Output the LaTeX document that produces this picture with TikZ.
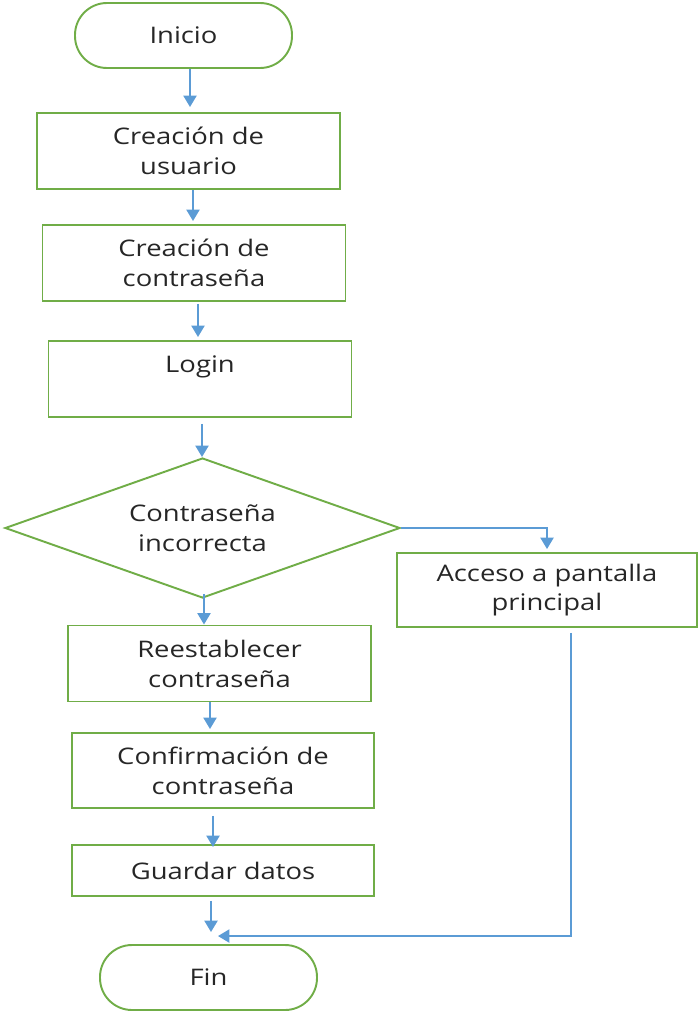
\documentclass[tikz,border=0pt]{standalone}
\usepackage{fontspec}
\setmainfont[FakeStretch=1.2]{Open Sans}
\usepackage{tikz}
\usetikzlibrary{arrows.meta}
\usetikzlibrary{shapes.geometric}
\usetikzlibrary{positioning}
\definecolor{flowgreen}{RGB}{112,173,71}
\definecolor{flowblue}{RGB}{91,155,213}
\definecolor{flowtext}{RGB}{38,38,38}

\begin{document}
\begin{tikzpicture}

    \tikzstyle{base}     = [draw=flowgreen, line width=1.1pt, text=flowtext, align=center,
                            font=\fontsize{13}{17}\selectfont];
    \tikzstyle{terminal} = [base, rectangle, rounded corners=0.64cm, minimum width=4.34cm, minimum height=1.3cm];
    \tikzstyle{process}  = [base, rectangle, minimum width=6.06cm, minimum height=1.52cm];
    \tikzstyle{decision} = [base, diamond, aspect=2.82, minimum width=7.9cm, minimum height=2.8cm, inner sep=0pt];
    \tikzstyle{flow}     = [draw=flowblue, line width=1pt, -{Triangle[width=7.5pt,length=6.5pt]}];

    \useasboundingbox (0,0) rectangle (13.96,-20.26);

    %
    % Main column
    %
    \node[terminal] (inicio)  at (3.67,-0.71)  {Inicio};
    \node[process]  (usuario) at (3.77,-3.02)  {Creación de\\usuario};
    \node[process]  (clave)   at (3.88,-5.26)  {Creación de\\contraseña};
    \node[process]  (login)   at (4.00,-7.58)  {Login\\ {}};

    %
    % Decision
    %
    \node[decision] (check)   at (4.05,-10.56) {Contraseña\\incorrecta};
    \node[process, minimum width=6.0cm, minimum height=1.48cm] (acceso) at (10.94,-11.80) {Acceso a pantalla\\principal};

    %
    % Password reset
    %
    \node[process]  (reset)   at (4.39,-13.27) {Reestablecer\\contraseña};
    \node[process, minimum width=6.04cm, minimum height=1.5cm] (confirm) at (4.46,-15.41) {Confirmación de\\contraseña};
    \node[process, minimum width=6.04cm, minimum height=1.02cm] (guardar) at (4.46,-17.41) {Guardar datos};
    \node[terminal] (fin)     at (4.17,-19.55) {Fin};

    % Arrows
    \draw[flow, shorten >=0.1cm]  ([xshift=0.13cm]inicio.south)  -- ([xshift=0.13cm]inicio.south |- usuario.north);
    \draw[flow, shorten >=0.06cm] ([xshift=0.09cm]usuario.south) -- ([xshift=0.09cm]usuario.south |- clave.north);
    \draw[flow, shorten <=0.04cm, shorten >=0.06cm] ([xshift=0.08cm]clave.south) -- ([xshift=0.08cm]clave.south |- login.north);
    \draw[flow, shorten <=0.12cm] ([xshift=0.04cm]login.south)   -- ([xshift=0.04cm]login.south |- check.north);
    \draw[flow, shorten <=-0.1cm] ([xshift=0.03cm]check.south)   -- ([xshift=0.03cm]check.south |- reset.north);
    \draw[flow, shorten >=0.06cm] ([xshift=-0.19cm]reset.south)  -- ([xshift=-0.19cm]reset.south |- confirm.north);
    \draw[flow, shorten <=0.14cm, shorten >=-0.06cm] ([xshift=-0.2cm]confirm.south) -- ([xshift=-0.2cm]confirm.south |- guardar.north);
    \draw[flow, shorten <=0.08cm, shorten >=0.24cm] ([xshift=-0.24cm]guardar.south) -- ([xshift=-0.24cm]guardar.south |- fin.north);

    % Branch arrows
    \draw[flow, shorten >=0.06cm] (check.east) -| (acceso.north);
    \draw[flow, shorten <=0.1cm]  ([xshift=0.48cm]acceso.south) |- ([xshift=0.19cm, yshift=0.16cm]fin.north);
\end{tikzpicture}
\end{document}
